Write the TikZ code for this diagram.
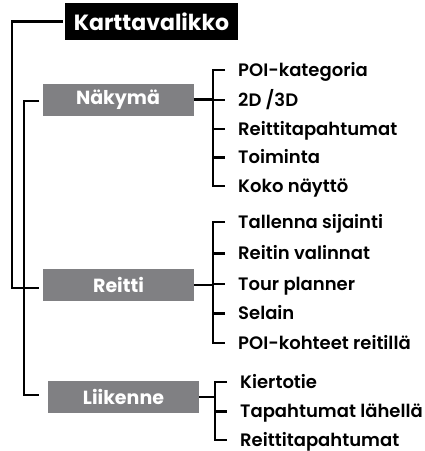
\documentclass[tikz,border=0pt]{standalone}
\usepackage{fontspec}
\setmainfont{Poppins}[BoldFont={Poppins SemiBold}]
\newfontfamily\heavyfont{Poppins Bold}
\definecolor{boxgrey}{HTML}{808083}
\begin{document}
\begin{tikzpicture}[x=1pt,y=-1pt,
  conn/.style={line width=2.4pt},
  mainbox/.style={fill=black,text=white,minimum width=173pt,minimum height=37pt,inner sep=0pt,font=\heavyfont\fontsize{22}{22}\selectfont},
  subbox/.style={fill=boxgrey,text=white,minimum width=151pt,minimum height=32pt,inner sep=0pt,font=\heavyfont\fontsize{19}{19}\selectfont},
  item/.style={anchor=west,inner sep=0pt,text height=12.6pt,text depth=0pt,font=\bfseries\fontsize{18}{18}\selectfont}]
\useasboundingbox (0,0) rectangle (425,451);
\node[mainbox] (kart) at (151.5,21.5) {Karttavalikko};
\node[subbox] (nak) at (118,99.5) {Näkymä};
\node[subbox] (reit) at (118.5,285) {Reitti};
\node[subbox] (liik) at (123.5,397) {Liikenne};
\coordinate (L1) at (12,0);
\coordinate (L2) at (24,0);
\coordinate (B1) at (213,0);
\coordinate (B2) at (213,0);
\coordinate (B3) at (215,0);
% items
\node[item] (n1) at (238,70) {POI-kategoria};
\node[item] (n2) at (238,100) {2D /3D};
\node[item] (n3) at (238,129) {Reittitapahtumat};
\node[item] (n4) at (238,157.5) {Toiminta};
\node[item] (n5) at (238,186) {Koko näyttö};
\node[item] (r1) at (238,222) {Tallenna sijainti};
\node[item] (r2) at (238,253.5) {Reitin valinnat};
\node[item] (r3) at (238,284) {Tour planner};
\node[item] (r4) at (238,313.5) {Selain};
\node[item] (r5) at (238,343) {POI-kohteet reitillä};
\node[item] (k1) at (240,382) {Kiertotie};
\node[item] (k2) at (240,411.5) {Tapahtumat lähellä};
\node[item] (k3) at (240,440) {Reittitapahtumat};
% left connectors
\draw[conn] ([xshift=-2pt]kart.west) -- (kart.west -| L1) -- ([yshift=-3pt]reit.west -| L1) -- ([xshift=-4pt,yshift=-3pt]reit.west);
\draw[conn] ([xshift=-3pt,yshift=-1.5pt]nak.west) -- ([yshift=-1.5pt]nak.west -| L2) -- ([yshift=2pt]liik.west -| L2) -- ([xshift=-9pt,yshift=2pt]liik.west);
% right brackets
\draw[conn] (nak.east) -- (nak.east -| B1);
\draw[conn] ([xshift=-13pt]n1.west) -- (n1.west -| B1) -- (n5.west -| B1) -- ([xshift=-13pt]n5.west);
\foreach \i in {n2,n3,n4} \draw[conn] (\i.west -| B1) -- ([xshift=-13pt]\i.west);
\draw[conn] (reit.east) -- (reit.east -| B2);
\draw[conn] ([xshift=-13pt]r1.west) -- (r1.west -| B2) -- (r5.west -| B2) -- ([xshift=-13pt]r5.west);
\foreach \i in {r2,r3,r4} \draw[conn] (\i.west -| B2) -- ([xshift=-13pt]\i.west);
\draw[conn] (liik.east) -- (liik.east -| B3);
\draw[conn] ([xshift=-13pt]k1.west) -- (k1.west -| B3) -- (k3.west -| B3) -- ([xshift=-13pt]k3.west);
\draw[conn] (k2.west -| B3) -- ([xshift=-13pt]k2.west);
\end{tikzpicture}
\end{document}
